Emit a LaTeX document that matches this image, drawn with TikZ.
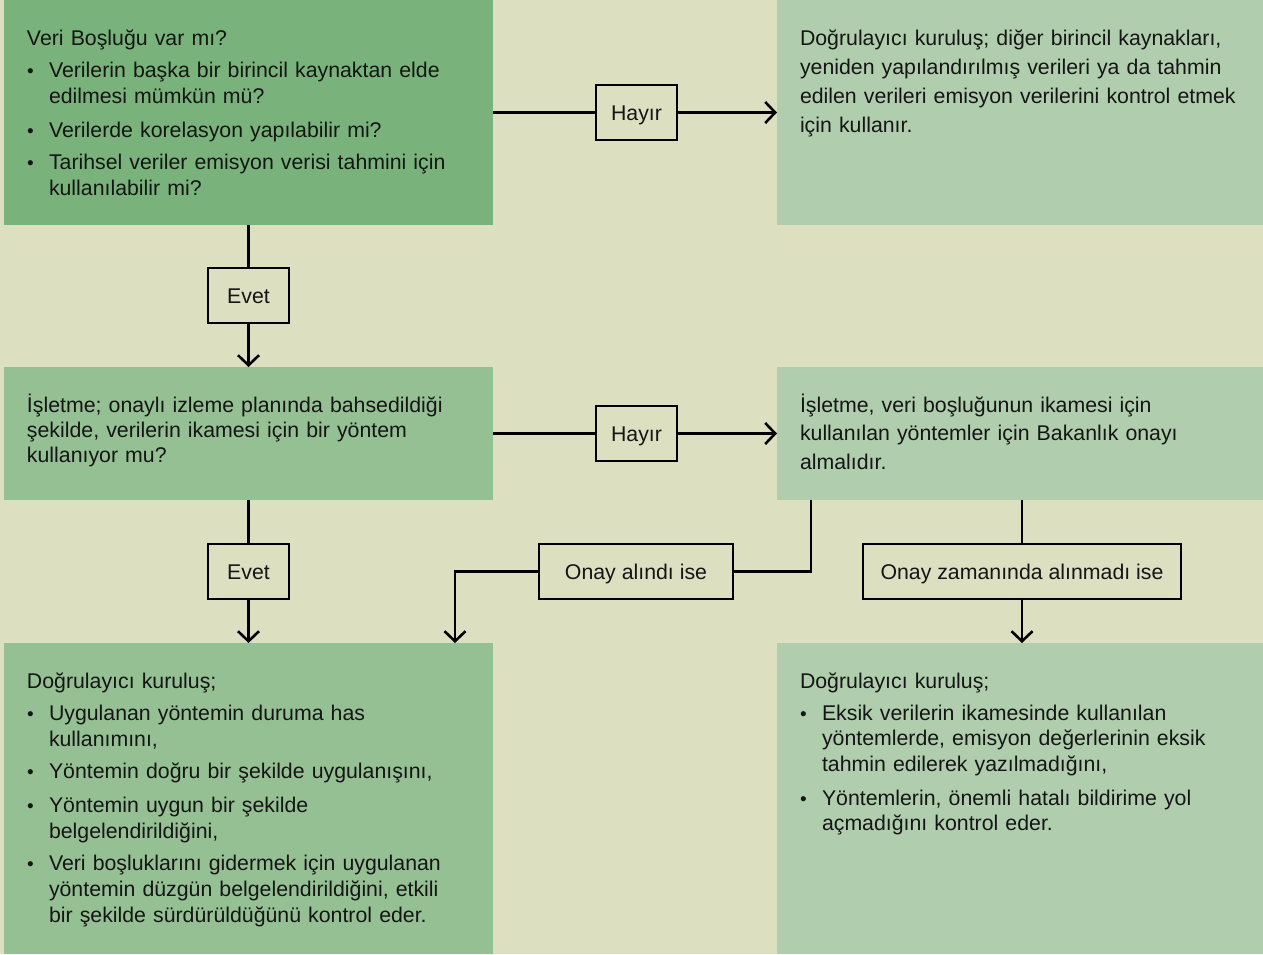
\documentclass[tikz,border=0pt]{standalone}
\usepackage{fontspec}
\setmainfont{Liberation Sans}
\usetikzlibrary{arrows.meta}

\definecolor{pagebg}{HTML}{DCE0C1}
\definecolor{darkgreen}{HTML}{79B37B}
\definecolor{midgreen}{HTML}{95C094}
\definecolor{palegreen}{HTML}{B0CEAD}
\definecolor{ink}{HTML}{151515}

\tikzset{
  x=1pt, y=-1pt,
  panel/.style={anchor=north west, inner sep=0pt, outer sep=0pt, draw=none},
  body/.style={anchor=base west, inner sep=0pt, outer sep=0pt, align=left,
    text=ink, text width=#1},
  body/.default=460pt,
  dot/.style={anchor=base, inner sep=0pt, text=ink, font=\fontsize{19}{26}\selectfont},
  tag/.style={draw=black, line width=2.4pt, fill=pagebg, text=ink, inner sep=0pt,
    text height=16pt, text depth=0pt,
    minimum height=55pt, font=\fontsize{21.3}{25}\selectfont},
  link/.style={draw=black, line width=2.4pt},
  arrowlink/.style={link, -{Straight Barb[length=10pt,width=21pt,line width=2.6pt]}},
}

\begin{document}
\begin{tikzpicture}
  % page
  \fill[pagebg] (0,0) rectangle (1263,954);
  \useasboundingbox (0,0) rectangle (1263,954);

  % panels
  \node[panel, fill=darkgreen, minimum width=489pt, minimum height=225pt] (q1) at (4,0) {};
  \node[panel, fill=palegreen, minimum width=486pt, minimum height=225pt] (r1) at (777,0) {};
  \node[panel, fill=midgreen,  minimum width=489pt, minimum height=133pt] (q2) at (4,367) {};
  \node[panel, fill=palegreen, minimum width=486pt, minimum height=133pt] (r2) at (777,367) {};
  \node[panel, fill=midgreen,  minimum width=489pt, minimum height=311pt] (q3) at (4,643) {};
  \node[panel, fill=palegreen, minimum width=486pt, minimum height=311pt] (r3) at (777,643) {};

  % top-left panel text
  \begin{scope}[every node/.append style={font=\fontsize{21.3}{26}\selectfont}]
    \node[body] (q1h) at (27,45) {Veri Boşluğu var mı?};
    \node[dot] (q1b1) at (30.5,77) {•};
    \node[body] (q1i1) at (49,77) {Verilerin başka bir birincil kaynaktan elde\\edilmesi mümkün mü?};
    \node[dot] (q1b2) at (30.5,137) {•};
    \node[body] (q1i2) at (49,137) {Verilerde korelasyon yapılabilir mi?};
    \node[dot] (q1b3) at (30.5,169) {•};
    \node[body] (q1i3) at (49,169) {Tarihsel veriler emisyon verisi tahmini için\\kullanılabilir mi?};
  \end{scope}

  % top-right panel text
  \node[body, font=\fontsize{21.3}{29.3}\selectfont] (r1t) at (800,45)
    {Doğrulayıcı kuruluş; diğer birincil kaynakları,\\yeniden yapılandırılmış verileri ya da tahmin\\edilen verileri emisyon verilerini kontrol etmek\\için kullanır.};

  % middle panels text
  \node[body, font=\fontsize{21.3}{25}\selectfont] (q2t) at (27,412)
    {İşletme; onaylı izleme planında bahsedildiği\\şekilde, verilerin ikamesi için bir yöntem\\kullanıyor mu?};
  \node[body, font=\fontsize{21.3}{28.5}\selectfont] (r2t) at (800,412)
    {İşletme, veri boşluğunun ikamesi için\\kullanılan yöntemler için Bakanlık onayı\\almalıdır.};

  % bottom-left panel text
  \begin{scope}[every node/.append style={font=\fontsize{21.3}{26}\selectfont}]
    \node[body] (q3h) at (27,688) {Doğrulayıcı kuruluş;};
    \node[dot] (q3b1) at (30.5,720) {•};
    \node[body] (q3i1) at (49,720) {Uygulanan yöntemin duruma has\\kullanımını,};
    \node[dot] (q3b2) at (30.5,778) {•};
    \node[body] (q3i2) at (49,778) {Yöntemin doğru bir şekilde uygulanışını,};
    \node[dot] (q3b3) at (30.5,812) {•};
    \node[body] (q3i3) at (49,812) {Yöntemin uygun bir şekilde\\belgelendirildiğini,};
    \node[dot] (q3b4) at (30.5,870) {•};
    \node[body] (q3i4) at (49,870) {Veri boşluklarını gidermek için uygulanan\\yöntemin düzgün belgelendirildiğini, etkili\\bir şekilde sürdürüldüğünü kontrol eder.};
  \end{scope}

  % bottom-right panel text
  \begin{scope}[every node/.append style={font=\fontsize{21.3}{25.5}\selectfont}]
    \node[body] (r3h) at (800,688) {Doğrulayıcı kuruluş;};
    \node[dot] (r3b1) at (803.5,720) {•};
    \node[body] (r3i1) at (822,720) {Eksik verilerin ikamesinde kullanılan\\yöntemlerde, emisyon değerlerinin eksik\\tahmin edilerek yazılmadığını,};
    \node[dot] (r3b2) at (803.5,805) {•};
    \node[body] (r3i2) at (822,805) {Yöntemlerin, önemli hatalı bildirime yol\\açmadığını kontrol eder.};
  \end{scope}

  % decision labels
  \node[tag, minimum width=81pt]  (no1)  at (636.5,112.5) {Hayır};
  \node[tag, minimum width=81pt]  (yes1) at (248.5,295.5) {Evet};
  \node[tag, minimum width=81pt]  (no2)  at (636.5,433.5) {Hayır};
  \node[tag, minimum width=81pt]  (yes2) at (248.5,571.5) {Evet};
  \node[tag, minimum width=194pt] (ok)   at (636,571.5)   {Onay alındı ise};
  \node[tag, minimum width=318pt] (late) at (1022,571.5)  {Onay zamanında alınmadı ise};

  % free ends of the approval branch
  \coordinate (okstart) at (811,500);
  \coordinate (okend) at (455,643);

  % connectors
  \draw[link] (q1.east) -- (no1.west);
  \draw[arrowlink] (no1.east) -- (r1.west);
  \draw[link] (q1.south) -- (yes1.north);
  \draw[arrowlink] (yes1.south) -- (q2.north);
  \draw[link] (q2.east) -- (no2.west);
  \draw[arrowlink] (no2.east) -- (r2.west);
  \draw[link] (q2.south) -- (yes2.north);
  \draw[arrowlink] (yes2.south) -- (q3.north);
  \draw[link] (okstart) |- (ok.east);
  \draw[arrowlink] (ok.west) -| (okend);
  \draw[link] (r2.south -| late.north) -- (late.north);
  \draw[arrowlink] (late.south) -- (late.south |- r3.north);
\end{tikzpicture}
\end{document}
